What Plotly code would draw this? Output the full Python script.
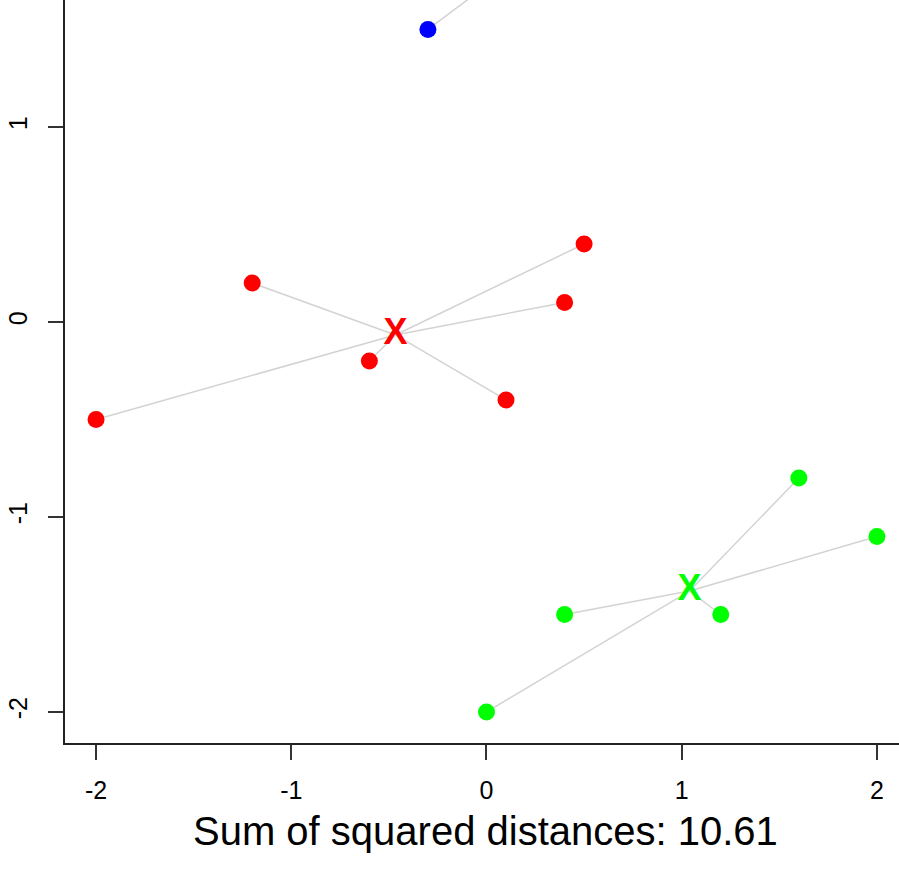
import numpy as np
import plotly.graph_objects as go

# Cluster data
red_x = [-1.2, 0.5, 0.4, -0.6, 0.1, -2.0]
red_y = [0.2, 0.4, 0.1, -0.2, -0.4, -0.5]
green_x = [1.6, 2.0, 0.4, 1.2, 0.0]
green_y = [-0.8, -1.1, -1.5, -1.5, -2.0]
blue_x = [-0.3, 0.6, 0.6]
blue_y = [1.5, 2.1, 2.25]

tick_vals = [-2, -1, 0, 1, 2]
tick_text = ["-2", "-1", "0", "1", "2"]
title_text = "Sum of squared distances: 10.61"

x_range = [-2.159, 2.113]
y_range = [-2.159, 1.651]

clusters = [
    (red_x, red_y, "#FF0000"),
    (green_x, green_y, "#00FF00"),
    (blue_x, blue_y, "#0000FF"),
]

FONT = "Liberation Sans, Arial, Helvetica, sans-serif"
fig = go.Figure()

# segments from centroid to each point
for xs, ys, col in clusters:
    cx, cy = float(np.mean(xs)), float(np.mean(ys))
    lx, ly = [], []
    for x, y in zip(xs, ys):
        lx += [cx, x, None]
        ly += [cy, y, None]
    fig.add_trace(go.Scatter(x=lx, y=ly, mode="lines",
                             line=dict(color="#D3D3D3", width=1.5),
                             hoverinfo="skip", showlegend=False))

# points
for xs, ys, col in clusters:
    fig.add_trace(go.Scatter(x=xs, y=ys, mode="markers",
                             marker=dict(color=col, size=17, line=dict(width=0)),
                             showlegend=False))

# centroids as "X" (only those inside the visible window)
for xs, ys, col in clusters:
    cx, cy = float(np.mean(xs)), float(np.mean(ys))
    if not (x_range[0] <= cx <= x_range[1] and y_range[0] <= cy <= y_range[1]):
        continue
    fig.add_trace(go.Scatter(x=[cx], y=[cy], mode="text", text=["<b>X</b>"],
                             textposition="middle center",
                             textfont=dict(color=col, size=36, family=FONT),
                             showlegend=False))

axis_common = dict(
    showgrid=False, zeroline=False, showline=True, linecolor="#222222",
    linewidth=1.5, ticks="outside", ticklen=15, tickwidth=1.5,
    tickcolor="#333333", tickvals=tick_vals, ticktext=tick_text,
    tickfont=dict(family=FONT, size=25, color="#000000"),
    mirror=False,
)

fig.update_layout(
    width=899, height=872, autosize=False,
    margin=dict(l=65, r=0, t=0, b=129, pad=0),
    paper_bgcolor="white", plot_bgcolor="white",
    xaxis=dict(range=x_range, ticklabelstandoff=9, **axis_common),
    yaxis=dict(range=y_range, tickangle=-90, ticklabelstandoff=11, **axis_common),
    annotations=[dict(
        text=title_text, xref="paper", yref="paper",
        x=(485.5 - 65) / 834, y=(743 - 831) / 743,
        xanchor="center", yanchor="middle", showarrow=False,
        font=dict(family=FONT, size=40, color="#000000"),
    )],
)

fig.write_html("out.html")
